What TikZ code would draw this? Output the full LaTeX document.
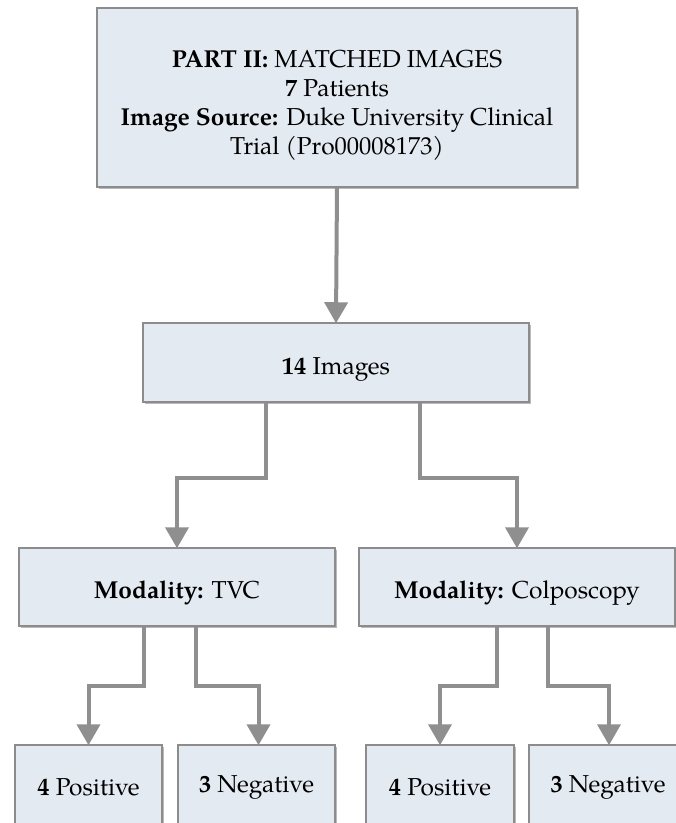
\documentclass[tikz,border=0pt]{standalone}
\usepackage{fontspec}
\setmainfont{TeX Gyre Pagella}
\usepackage{tikz}
\usepackage{xcolor}
\usetikzlibrary{arrows.meta, positioning, shadows}

\definecolor{boxfill}{HTML}{E4EAF2}
\definecolor{boxline}{HTML}{8C8C8C}
\definecolor{flowgray}{HTML}{8F8F8F}

\tikzset{
  box/.style={rectangle, draw=boxline, line width=1.5pt, fill=boxfill,
    align=center, inner sep=0pt,
    drop shadow={shadow xshift=2pt, shadow yshift=-2pt, opacity=0.45, fill=black!60},
    font=\fontsize{24.5}{29}\selectfont},
  stage/.style={box, execute at begin node={\rule{0pt}{30pt}}},
  leaf/.style={box, minimum height=84pt},
  flow/.style={draw=flowgray, line width=4pt,
    -{Triangle[length=21pt, width=23pt]}, shorten >=-1pt}
}

\begin{document}
\begin{tikzpicture}[x=1pt, y=-1pt]
\useasboundingbox (0,0) rectangle (676,823);
\clip (0,0) rectangle (676,823);

\node[box, minimum width=480pt, minimum height=179pt] (part) at (337,97.5)
  {\rule{0pt}{32pt}\textbf{PART II:} MATCHED IMAGES\\ \textbf{7} Patients\\
   \textbf{Image Source:} Duke University Clinical\\ Trial (Pro00008173)};
\node[stage, minimum width=386pt, minimum height=79pt] (images) at (336,362.5) {\textbf{14} Images};

\node[stage, minimum width=316pt, minimum height=78pt] (tvc) at (177,587) {\textbf{Modality:} TVC};
\node[stage, minimum width=316pt, minimum height=78pt] (colpo) at (517,587) {\textbf{Modality:} Colposcopy};

\node[leaf, minimum width=147pt] (tvcpos) at (88.5,787) {\textbf{4} Positive};
\node[leaf, minimum width=157pt] (tvcneg) at (256.5,787) {\textbf{3} Negative};
\node[leaf, minimum width=148pt] (colpopos) at (440,787) {\textbf{4} Positive};
\node[leaf, minimum width=158pt] (colponeg) at (608,787) {\textbf{3} Negative};

\draw[flow] (part.south) -- (images.north);

\draw[flow] ([xshift=-70pt]images.south) -- ++(0,75) -| (tvc.north);
\draw[flow] ([xshift=84pt]images.south) -- ++(0,75) -| (colpo.north);

\draw[flow] ([xshift=-33pt]tvc.south) -- ++(0,59) -| (tvcpos.north);
\draw[flow] ([xshift=19pt]tvc.south) -- ++(0,59) -| ([xshift=2pt]tvcneg.north);
\draw[flow] ([xshift=-20pt]colpo.south) -- ++(0,59) -| (colpopos.north);
\draw[flow] ([xshift=31pt]colpo.south) -- ++(0,59) -| ([xshift=1pt]colponeg.north);
\end{tikzpicture}
\end{document}
